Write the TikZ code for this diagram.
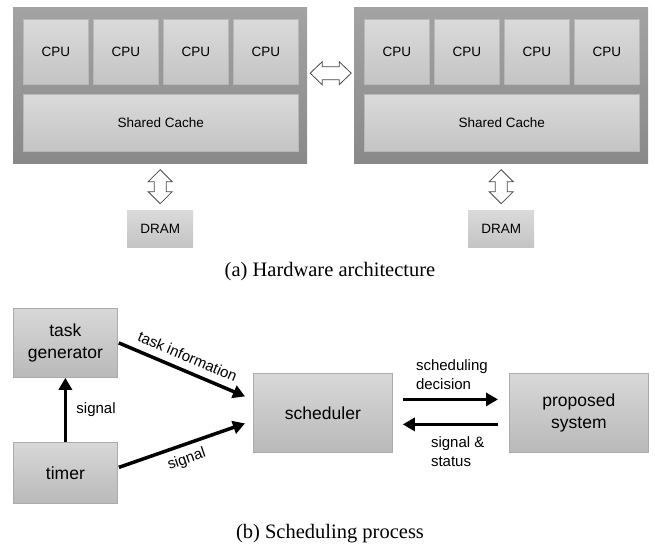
\documentclass[tikz,border=0pt]{standalone}
\usepackage{fontspec}
\setmainfont{Liberation Serif}
\newfontfamily\arialf{Liberation Sans}
\usetikzlibrary{arrows.meta,calc}
\definecolor{outtop}{HTML}{A3A3A3}
\definecolor{outbot}{HTML}{898989}
\definecolor{intop}{HTML}{DADADA}
\definecolor{inbot}{HTML}{C4C4C4}
\definecolor{indraw}{HTML}{B8B8B8}
\definecolor{bxtop}{HTML}{D8D8D8}
\definecolor{bxbot}{HTML}{B9B9B9}
\definecolor{bxdraw}{HTML}{ACACAC}
\definecolor{arrdraw}{HTML}{4A4A4A}
\begin{document}
\begin{tikzpicture}[x=1pt,y=-1pt,
  outer/.style={draw=none, top color=outtop, bottom color=outbot, inner sep=0pt, anchor=north west, minimum width=294pt, minimum height=156pt},
  inbox/.style={draw=indraw, line width=0.6pt, top color=intop, bottom color=inbot, inner sep=0pt, anchor=north west, font=\arialf\fontsize{13.5}{16}\selectfont},
  cpu/.style={inbox, minimum width=65pt, minimum height=65pt},
  cache/.style={inbox, minimum width=275pt, minimum height=57pt},
  dram/.style={draw=none, top color=intop, bottom color=inbot, inner sep=0pt, anchor=north west, minimum width=66pt, minimum height=37pt, font=\arialf\fontsize{13.5}{16}\selectfont},
  bigbox/.style={draw=bxdraw, line width=0.8pt, top color=bxtop, bottom color=bxbot, inner sep=0pt, anchor=north west, align=center, font=\arialf\fontsize{17.5}{22}\selectfont},
  blockarrow/.style={draw=arrdraw, fill=white, line width=0.8pt, line join=miter},
  flow/.style={line width=3.5pt, -{Triangle[length=12pt,width=13pt]}},
  lbl/.style={font=\arialf\fontsize{15}{19}\selectfont},
  caption/.style={font=\fontsize{20.5}{24}\selectfont, anchor=base}
]
\useasboundingbox (0,0) rectangle (655,543);

% ---------- (a) hardware ----------
\node[outer] (outL) at (13,7) {};
\node[outer] (outR) at (354,7) {};
\node[cpu] (cL1) at (23,19) {CPU};
\node[cpu] (cL2) at (93,19) {CPU};
\node[cpu] (cL3) at (163,19) {CPU};
\node[cpu] (cL4) at (233,19) {CPU};
\node[cache] (shL) at (23,94) {Shared Cache};
\node[cpu] (cR1) at (364,19) {CPU};
\node[cpu] (cR2) at (434,19) {CPU};
\node[cpu] (cR3) at (504,19) {CPU};
\node[cpu] (cR4) at (574,19) {CPU};
\node[cache] (shR) at (364,94) {Shared Cache};
\node[dram] (drL) at (127,210) {DRAM};
\node[dram] (drR) at (468,210) {DRAM};

\coordinate (vL) at ($(outL.south)!0.5!(drL.north)$);
\coordinate (vR) at ($(outR.south)!0.5!(drR.north)$);
\coordinate (hM) at ($($(outL.east)!0.5!(outR.west)$)+(0,-12)$);

\begin{scope}[shift={(vL)}]
\draw[blockarrow] (0,-17) -- (12,-5) -- (6,-5) -- (6,5) -- (12,5) -- (0,17) -- (-12,5) -- (-6,5) -- (-6,-5) -- (-12,-5) -- cycle;
\end{scope}
\begin{scope}[shift={(vR)}]
\draw[blockarrow] (0,-17) -- (12,-5) -- (6,-5) -- (6,5) -- (12,5) -- (0,17) -- (-12,5) -- (-6,5) -- (-6,-5) -- (-12,-5) -- cycle;
\end{scope}
\begin{scope}[shift={(hM)}]
\draw[blockarrow] (-20.5,0) -- (-8.5,-11.5) -- (-8.5,-6.5) -- (8.5,-6.5) -- (8.5,-11.5) -- (20.5,0) -- (8.5,11.5) -- (8.5,6.5) -- (-8.5,6.5) -- (-8.5,11.5) -- cycle;
\end{scope}

\node[caption] (capA) at (330,276) {(a) Hardware architecture};

% ---------- (b) scheduling ----------
\node[bigbox, minimum width=104pt, minimum height=69pt] (tg) at (13,308) {task\\generator};
\node[bigbox, minimum width=104pt, minimum height=61pt] (tm) at (13,442) {timer};
\node[bigbox, minimum width=139pt, minimum height=79pt] (sc) at (253,373) {scheduler};
\node[bigbox, minimum width=139pt, minimum height=79pt] (ps) at (509,373) {proposed\\system};

\coordinate (tgS) at ($(tg.east)+(1,0)$);
\coordinate (tgE) at ($(sc.west)+(-8,-16.5)$);
\coordinate (tmS) at ($(tm.east)+(1,-5.5)$);
\coordinate (tmE) at ($(sc.west)+(-8,10.5)$);
\coordinate (d1S) at ($(sc.east)+(10,-13.5)$);
\coordinate (d1E) at ($(ps.west)+(-11,-13.5)$);
\coordinate (d2S) at ($(ps.west)+(-11,11.5)$);
\coordinate (d2E) at ($(sc.east)+(10,11.5)$);

\draw[flow] (tgS) -- node[lbl, sloped, above=4pt, midway] (lti) {task information} (tgE);
\draw[flow] (tmS) -- node[lbl, sloped, below=3pt, midway] (lsg) {signal} (tmE);
\draw[flow] (tm.north) -- node[lbl, right=6pt, midway] (lsv) {signal} (tg.south);
\draw[flow] (d1S) -- (d1E);
\draw[flow] (d2S) -- (d2E);
\node[lbl, align=left, anchor=south west, inner sep=0pt] (lsd) at ($(d1S)+(13,-10)$) {scheduling\\decision};
\node[lbl, align=left, anchor=north west, inner sep=0pt] (lss) at ($(d2E)+(28,12)$) {signal \&\\status};

\node[caption] (capB) at (330,538) {(b) Scheduling process};
\end{tikzpicture}
\end{document}
